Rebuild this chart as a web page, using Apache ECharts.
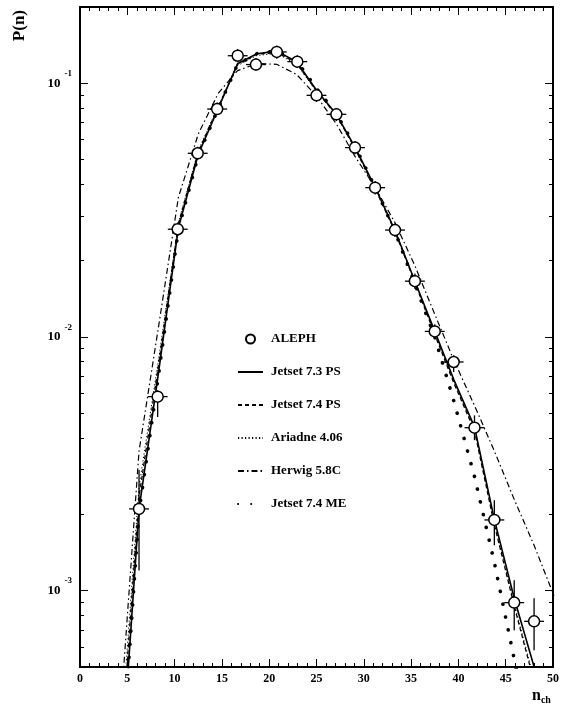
<!DOCTYPE html>
<html>
<head>
<meta charset="utf-8">
<script src="https://cdn.jsdelivr.net/npm/echarts@6/dist/echarts.min.js"></script>
<style>
  html, body { margin: 0; padding: 0; background: #fff; }
  #chart { width: 562px; height: 709px; }
</style>
</head>
<body>
<div id="chart"></div>
<script>
// ALEPH data points
const alephN = [6.24, 8.21, 10.33, 12.44, 14.5, 16.67, 18.6, 20.8, 22.97, 25.0, 27.1, 29.07, 31.2, 33.3, 35.4, 37.5, 39.5, 41.7, 43.8, 45.9, 48.0];
const alephP = [2.10e-3, 5.82e-3, 0.0266, 0.0530, 0.0792, 0.1285, 0.1186, 0.1330, 0.1218, 0.0897, 0.0755, 0.0558, 0.0388, 0.0264, 0.0166, 0.01052, 7.97e-3, 4.39e-3, 1.90e-3, 8.97e-4, 7.57e-4];
const alephLow = [1.20e-3, 4.84e-3, 0.0250, 0.0500, 0.0750, 0.121, 0.112, 0.125, 0.115, 0.0845, 0.0710, 0.0525, 0.0365, 0.0248, 0.0155, 9.91e-3, 7.28e-3, 3.92e-3, 1.51e-3, 6.98e-4, 5.82e-4];
const alephHigh = [2.99e-3, 6.17e-3, 0.0283, 0.0562, 0.0840, 0.1365, 0.126, 0.141, 0.129, 0.0952, 0.0800, 0.0592, 0.0412, 0.0281, 0.0178, 0.01122, 8.47e-3, 4.91e-3, 2.27e-3, 1.10e-3, 9.33e-4];
const alephXErr = 1.05;

// Monte Carlo predictions
const mcN = [4.15, 6.24, 8.3, 10.4, 12.5, 14.6, 16.65, 18.7, 20.8, 22.9, 25.0, 27.1, 29.1, 31.2, 33.3, 35.4, 37.5, 39.5, 41.7, 43.8, 45.9, 48.0, 50.1];
const jetset73PS = [1.48e-4, 2.09e-3, 7.24e-3, 0.0269, 0.0525, 0.0794, 0.1194, 0.1309, 0.1340, 0.1216, 0.0940, 0.0755, 0.0558, 0.0389, 0.0263, 0.0166, 0.01052, 6.81e-3, 4.42e-3, 1.91e-3, 9.33e-4, 5.01e-4, 2.51e-4];
const jetset74PS = [1.91e-4, 2.34e-3, 7.76e-3, 0.0279, 0.0537, 0.0804, 0.1189, 0.1303, 0.1324, 0.1202, 0.0933, 0.0750, 0.0550, 0.0385, 0.0260, 0.0164, 0.01023, 6.61e-3, 4.27e-3, 1.82e-3, 8.71e-4, 4.37e-4, 2.19e-4];
const ariadne406 = [2.19e-4, 2.57e-3, 8.13e-3, 0.0282, 0.0543, 0.0813, 0.1175, 0.1288, 0.1312, 0.1189, 0.0929, 0.0750, 0.0556, 0.0389, 0.0263, 0.0166, 0.01035, 6.68e-3, 4.32e-3, 1.84e-3, 8.91e-4, 4.47e-4, 2.24e-4];
const herwig58C = [2.82e-4, 3.55e-3, 0.01096, 0.0355, 0.0631, 0.0912, 0.1122, 0.1197, 0.1189, 0.1084, 0.0891, 0.0692, 0.0513, 0.0389, 0.0282, 0.0191, 0.0123, 8.13e-3, 5.37e-3, 3.55e-3, 2.29e-3, 1.51e-3, 9.55e-4];
const jetset74ME = [1.48e-4, 2.04e-3, 7.08e-3, 0.0266, 0.0519, 0.0794, 0.1189, 0.1309, 0.1343, 0.1225, 0.0955, 0.0759, 0.0562, 0.0389, 0.0260, 0.0162, 0.0100, 5.62e-3, 2.82e-3, 1.29e-3, 5.37e-4, 2.24e-4, 8.9e-5];

// axis ticks
const yMajorTicks = [1e-3, 1e-2, 1e-1];
const yMinorTicks = [5e-4, 6e-4, 7e-4, 8e-4, 9e-4, 2e-3, 3e-3, 4e-3, 5e-3, 6e-3, 7e-3, 8e-3, 9e-3, 2e-2, 3e-2, 4e-2, 5e-2, 6e-2, 7e-2, 8e-2, 9e-2, 2e-1];

const serif = 'Liberation Serif';
let mychart = echarts.init(document.getElementById('chart'), null, { renderer: 'canvas' });

function pairs(xs, ys) {
  return xs.map((x, i) => [x, ys[i]]);
}

function xAxisOpt(pos, showLabel) {
  return {
    type: 'value', position: pos, min: 0, max: 50, interval: 5,
    axisLine: { show: true, onZero: false, lineStyle: { color: '#000', width: 2 } },
    axisTick: { show: true, inside: true, length: 8, lineStyle: { color: '#000', width: 1 } },
    minorTick: { show: true, splitNumber: 5, length: 4, lineStyle: { color: '#000', width: 1 } },
    axisLabel: { show: showLabel, color: '#000', fontFamily: serif, fontWeight: 'bold', fontSize: 12, margin: 6 },
    splitLine: { show: false }, minorSplitLine: { show: false }
  };
}

function yAxisOpt(pos, ticks, len, showLine, showLabel) {
  return {
    type: 'log', logBase: 10, position: pos, min: 5e-4, max: 0.2,
    axisLine: { show: showLine, onZero: false, lineStyle: { color: '#000', width: 2 } },
    axisTick: { show: true, inside: true, length: len, customValues: ticks, lineStyle: { color: '#000', width: 1 } },
    axisLabel: {
      show: showLabel, customValues: ticks, margin: 8,
      formatter: function (v) {
        return '{b|10}{s|' + Math.round(Math.log10(v)) + '}';
      },
      rich: {
        b: { fontFamily: serif, fontWeight: 'bold', fontSize: 13, lineHeight: 28, color: '#000' },
        s: { fontFamily: serif, fontWeight: 'bold', fontSize: 9, lineHeight: 11, verticalAlign: 'top', padding: [0, 0, 0, 4], color: '#000' }
      }
    },
    splitLine: { show: false }
  };
}

function mcLine(name, vals, style) {
  return {
    name: name, type: 'line', xAxisIndex: 0, yAxisIndex: 0,
    data: pairs(mcN, vals), symbol: 'none', clip: true, z: 2,
    itemStyle: { color: '#000' },
    emphasis: { disabled: true },
    lineStyle: Object.assign({ color: '#000' }, style)
  };
}

function lineLegend(name) {
  return { name: name, itemStyle: { opacity: 0 } };
}

let option = {
  animation: false,
  backgroundColor: '#fff',
  grid: { left: 80, right: 9, top: 7, bottom: 42, containLabel: false, outerBoundsMode: 'none' },
  xAxis: [
    Object.assign(xAxisOpt('bottom', true), {
      name: '{n|n}{s|ch}', nameLocation: 'end', nameGap: -21,
      nameTextStyle: {
        align: 'left', verticalAlign: 'top', padding: [20, 0, 0, 0],
        rich: {
          n: { fontFamily: serif, fontWeight: 'bold', fontSize: 16, color: '#000' },
          s: { fontFamily: serif, fontWeight: 'bold', fontSize: 10, color: '#000', verticalAlign: 'bottom', padding: [8, 0, 0, 0] }
        }
      }
    }),
    xAxisOpt('top', false)
  ],
  yAxis: [
    yAxisOpt('left', yMajorTicks, 8, true, true),
    yAxisOpt('left', yMinorTicks, 4, false, false),
    yAxisOpt('right', yMajorTicks, 8, true, false),
    yAxisOpt('right', yMinorTicks, 4, false, false)
  ],
  graphic: [{
    type: 'text', left: 11, top: 10, rotation: Math.PI / 2,
    style: { text: 'P(n)', fontFamily: serif, fontWeight: 'bold', fontSize: 17, fill: '#000' }
  }],
  legend: {
    orient: 'vertical', left: 232, top: 327, itemWidth: 25, itemHeight: 9, itemGap: 19,
    selectedMode: false,
    textStyle: { fontFamily: serif, fontWeight: 'bold', fontSize: 13, color: '#000', lineHeight: 14, padding: [0, 0, 0, 3] },
    data: [
      { name: 'ALEPH' },
      lineLegend('Jetset 7.3 PS'),
      lineLegend('Jetset 7.4 PS'),
      lineLegend('Ariadne 4.06'),
      lineLegend('Herwig 5.8C'),
      lineLegend('Jetset 7.4 ME')
    ]
  },
  series: [
    mcLine('Jetset 7.3 PS', jetset73PS, { width: 1.6, type: 'solid' }),
    mcLine('Jetset 7.4 PS', jetset74PS, { width: 1.3, type: [4, 3] }),
    mcLine('Ariadne 4.06', ariadne406, { width: 1, type: [1.2, 2.3] }),
    mcLine('Herwig 5.8C', herwig58C, { width: 1.2, type: [6, 3, 1.5, 3] }),
    mcLine('Jetset 7.4 ME', jetset74ME, { width: 3.6, type: [0.1, 13], cap: 'round' }),
    {
      name: 'ALEPH errors', type: 'custom', xAxisIndex: 0, yAxisIndex: 0, z: 3,
      data: alephN.map((n, i) => [n, alephP[i], alephLow[i], alephHigh[i]]),
      encode: { x: 0, y: 1 },
      renderItem: function (params, api) {
        const x = api.value(0), y = api.value(1);
        const top = api.coord([x, api.value(3)]);
        const bot = api.coord([x, api.value(2)]);
        const l = api.coord([x - alephXErr, y]);
        const r = api.coord([x + alephXErr, y]);
        const st = { stroke: '#000', lineWidth: 1.3 };
        return {
          type: 'group',
          children: [
            { type: 'line', shape: { x1: top[0], y1: top[1], x2: bot[0], y2: bot[1] }, style: st },
            { type: 'line', shape: { x1: l[0], y1: l[1], x2: r[0], y2: r[1] }, style: st }
          ]
        };
      },
      clip: true
    },
    {
      name: 'ALEPH', type: 'scatter', xAxisIndex: 0, yAxisIndex: 0, z: 4,
      data: pairs(alephN, alephP), symbol: 'circle', symbolSize: 11,
      emphasis: { disabled: true },
      itemStyle: { color: '#fff', borderColor: '#000', borderWidth: 1.5, opacity: 1 }
    }
  ]
};
mychart.setOption(option);
</script>
</body>
</html>
